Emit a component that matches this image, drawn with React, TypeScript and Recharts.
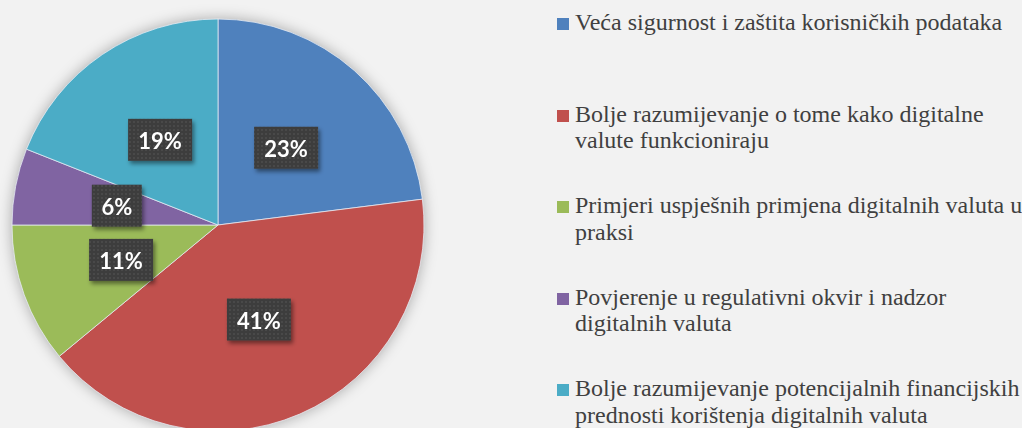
import React from 'react';
import { PieChart, Pie, Cell } from 'recharts';

const categories = [
  'Veća sigurnost i zaštita korisničkih podataka',
  'Bolje razumijevanje o tome kako digitalne valute funkcioniraju',
  'Primjeri uspješnih primjena digitalnih valuta u praksi',
  'Povjerenje u regulativni okvir i nadzor digitalnih valuta',
  'Bolje razumijevanje potencijalnih financijskih prednosti korištenja digitalnih valuta',
];
const legendLines = [
  ['Veća sigurnost i zaštita korisničkih podataka'],
  ['Bolje razumijevanje o tome kako digitalne', 'valute funkcioniraju'],
  ['Primjeri uspješnih primjena digitalnih valuta u', 'praksi'],
  ['Povjerenje u regulativni okvir i nadzor', 'digitalnih valuta'],
  ['Bolje razumijevanje potencijalnih financijskih', 'prednosti korištenja digitalnih valuta'],
];
const values = [23, 41, 11, 6, 19];
const colors = ['#4f81bd', '#c0504d', '#9bbb59', '#8064a2', '#4bacc6'];

const data = categories.map((name, i) => ({ name, value: values[i] }));

const RADIAN = Math.PI / 180;

// dark dotted box with the percentage, half-way out from the centre
const renderLabel = (props: any) => {
  const { cx, cy, midAngle, outerRadius, value } = props;
  const r = outerRadius * 0.5;
  const x = cx + r * Math.cos(-midAngle * RADIAN);
  const y = cy + r * Math.sin(-midAngle * RADIAN);
  const w = 36 + 14 * String(value).length;
  const h = 42;
  return (
    <g>
      <rect x={x - w / 2} y={y - h / 2} width={w} height={h} fill="url(#dots)" filter="url(#boxShadow)" />
      <text
        x={x}
        y={y + 1}
        textAnchor="middle"
        dominantBaseline="central"
        fill="#ffffff"
        fontFamily="Lato"
        fontWeight={700}
        fontSize={22}
      >
        {`${value}%`}
      </text>
    </g>
  );
};

const SideLegend = () => (
  <div style={{ position: 'absolute', left: 557, top: 9, width: 465 }}>
    {legendLines.map((lines, i) => (
      <div key={i} style={{ position: 'absolute', top: i * 91.5, left: 0, display: 'flex' }}>
        <div style={{ width: 12, height: 12, background: colors[i], marginTop: 9, flexShrink: 0 }} />
        <div style={{ marginLeft: 6, fontFamily: 'Liberation Serif', fontSize: 24, lineHeight: '26.7px', color: '#404040', whiteSpace: 'nowrap' }}>
          {lines.map((l, j) => (
            <div key={j}>{l}</div>
          ))}
        </div>
      </div>
    ))}
  </div>
);

export default function App() {
  return (
    <div style={{ position: 'absolute', left: 0, top: 0, width: 1022, height: 428, background: '#f2f2f2', overflow: 'hidden' }}>
      <style>{`.pie-holder .recharts-surface { filter: drop-shadow(0px 0px 7px rgba(0,0,0,0.3)); }`}</style>
      <div className="pie-holder">
        <PieChart width={1022} height={428} margin={{ top: 0, right: 0, bottom: 0, left: 0 }}>
          <defs>
            <pattern id="dots" width="4" height="4" patternUnits="userSpaceOnUse">
              <rect width="4" height="4" fill="#3d3d3d" />
              <circle cx="2" cy="2" r="0.8" fill="#555555" />
            </pattern>
            <filter id="boxShadow" x="-20%" y="-20%" width="150%" height="160%">
              <feDropShadow dx="2" dy="3" stdDeviation="2" floodColor="#000" floodOpacity="0.45" />
            </filter>
          </defs>
          <Pie
            data={data}
            dataKey="value"
            nameKey="name"
            cx={218}
            cy={225}
            outerRadius={206}
            startAngle={90}
            endAngle={-270}
            stroke="#e8eef5"
            strokeWidth={0.75}
            labelLine={false}
            label={renderLabel}
            isAnimationActive={false}
          >
            {data.map((d, i) => (
              <Cell key={d.name} fill={colors[i]} />
            ))}
          </Pie>
        </PieChart>
      </div>
      <SideLegend />
    </div>
  );
}
